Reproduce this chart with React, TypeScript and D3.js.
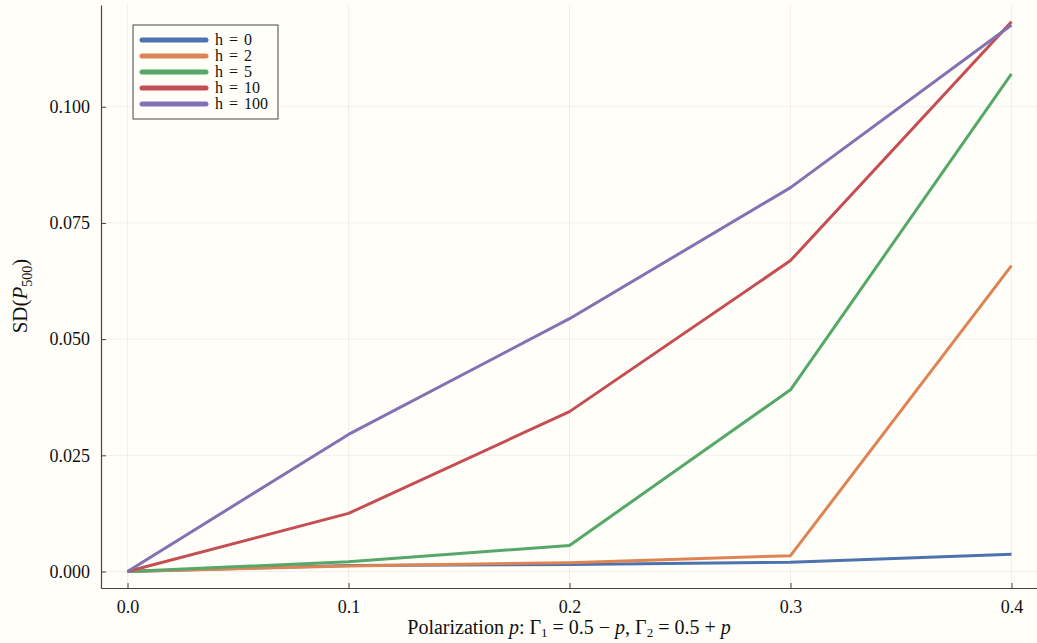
import React, { useEffect, useRef } from "react";
import * as d3 from "d3";

const pValues = [0.0, 0.1, 0.2, 0.3, 0.4];
const h0 = [0.0, 0.0013, 0.0015, 0.002, 0.0037];
const h2 = [0.0, 0.0012, 0.0019, 0.0034, 0.0658];
const h5 = [0.0, 0.0021, 0.0056, 0.0391, 0.1071];
const h10 = [0.0, 0.0125, 0.0344, 0.0669, 0.1183];
const h100 = [0.0, 0.0295, 0.0544, 0.0826, 0.1176];

const seriesNames = ["h = 0", "h = 2", "h = 5", "h = 10", "h = 100"];
const seriesData = [h0, h2, h5, h10, h100];
const colors = ["#4C72B0", "#DD8452", "#55A868", "#C44E52", "#8172B3"];

const xTicks = [0.0, 0.1, 0.2, 0.3, 0.4];
const yTicks = [0.0, 0.025, 0.05, 0.075, 0.1];

const FONT = "Liberation Serif, DejaVu Serif, serif";

export default function App() {
  const svgRef = useRef<SVGSVGElement>(null);

  useEffect(() => {
    const W = 1037, H = 643;
    const svg = d3.select(svgRef.current);
    svg.selectAll("*").remove();
    svg.attr("width", W).attr("height", H).style("font-family", FONT);

    svg.append("rect").attr("width", W).attr("height", H).attr("fill", "#fffef8");

    const left = 101, right = 1038, top = 5, bottom = 588;

    const x = d3.scaleLinear().domain([-0.012, 0.412]).range([left, right]);
    const y = d3.scaleLinear().domain([-0.00355, 0.1219]).range([bottom, top]);

    const g = svg.append("g");

    // grid
    g.selectAll(".gx")
      .data(xTicks)
      .enter()
      .append("line")
      .attr("x1", d => x(d)).attr("x2", d => x(d))
      .attr("y1", top).attr("y2", bottom)
      .attr("stroke", "#000").attr("stroke-opacity", 0.06).attr("stroke-width", 1);
    g.selectAll(".gy")
      .data(yTicks)
      .enter()
      .append("line")
      .attr("x1", left).attr("x2", right)
      .attr("y1", d => y(d)).attr("y2", d => y(d))
      .attr("stroke", "#000").attr("stroke-opacity", 0.06).attr("stroke-width", 1);

    // axes
    const xAxis = g.append("g")
      .attr("transform", `translate(0,${bottom})`)
      .call(d3.axisBottom(x).tickValues(xTicks).tickFormat(d3.format(".1f")).tickSizeInner(-5).tickSizeOuter(0).tickPadding(12));
    const yAxis = g.append("g")
      .attr("transform", `translate(${left},0)`)
      .call(d3.axisLeft(y).tickValues(yTicks).tickFormat(d3.format(".3f")).tickSizeInner(-5).tickSizeOuter(0).tickPadding(11));

    [xAxis, yAxis].forEach(a => {
      a.attr("font-family", null).attr("font-size", null);
      a.select(".domain").attr("stroke", "#444").attr("stroke-width", 1.2);
      a.selectAll(".tick line").attr("stroke", "#444");
      a.selectAll("text").style("font-family", FONT).style("font-size", "18px").attr("fill", "#111");
    });

    // lines
    const line = d3.line<number>().x((d, i) => x(pValues[i])).y(d => y(d));
    seriesData.forEach((s, i) => {
      g.append("path")
        .datum(s)
        .attr("fill", "none")
        .attr("stroke", colors[i])
        .attr("stroke-width", 3)
        .attr("stroke-linejoin", "round")
        .attr("d", line);
    });

    // legend
    const lg = svg.append("g");
    lg.append("rect")
      .attr("x", 133).attr("y", 25).attr("width", 145).attr("height", 94)
      .attr("fill", "#fffef8").attr("stroke", "#444").attr("stroke-width", 1);
    seriesNames.forEach((name, i) => {
      const yy = 40 + i * 16;
      lg.append("line")
        .attr("x1", 142).attr("x2", 206).attr("y1", yy).attr("y2", yy)
        .attr("stroke", colors[i]).attr("stroke-width", 5).attr("stroke-linecap", "round");
      lg.append("text")
        .attr("x", 215).attr("y", yy + 5)
        .style("font-family", FONT).style("font-size", "16px").style("word-spacing", "2px").attr("fill", "#111")
        .text(name);
    });

    // y label
    const yl = svg.append("text")
      .attr("transform", "translate(27,296) rotate(-90)")
      .attr("text-anchor", "middle")
      .style("font-family", FONT).style("font-size", "21px").attr("fill", "#111");
    yl.append("tspan").text("SD(");
    yl.append("tspan").attr("font-style", "italic").text("P");
    yl.append("tspan").attr("font-size", 14).attr("dy", 5).text("500");
    yl.append("tspan").attr("dy", -5).text(")");

    // x label
    const xl = svg.append("text")
      .attr("x", 569).attr("y", 634)
      .attr("text-anchor", "middle")
      .style("font-family", FONT).style("font-size", "20px").attr("fill", "#111");
    xl.append("tspan").text("Polarization ");
    xl.append("tspan").attr("font-style", "italic").text("p");
    xl.append("tspan").text(": Γ");
    xl.append("tspan").attr("font-size", 13).attr("dy", 3).text("1");
    xl.append("tspan").attr("dy", -3).text(" = 0.5 − ");
    xl.append("tspan").attr("font-style", "italic").text("p");
    xl.append("tspan").text(", Γ");
    xl.append("tspan").attr("font-size", 13).attr("dy", 3).text("2");
    xl.append("tspan").attr("dy", -3).text(" = 0.5 + ");
    xl.append("tspan").attr("font-style", "italic").text("p");
  }, []);

  return (
    <div style={{ position: "fixed", left: 0, top: 0 }}>
      <svg ref={svgRef} style={{ display: "block" }}></svg>
    </div>
  );
}
